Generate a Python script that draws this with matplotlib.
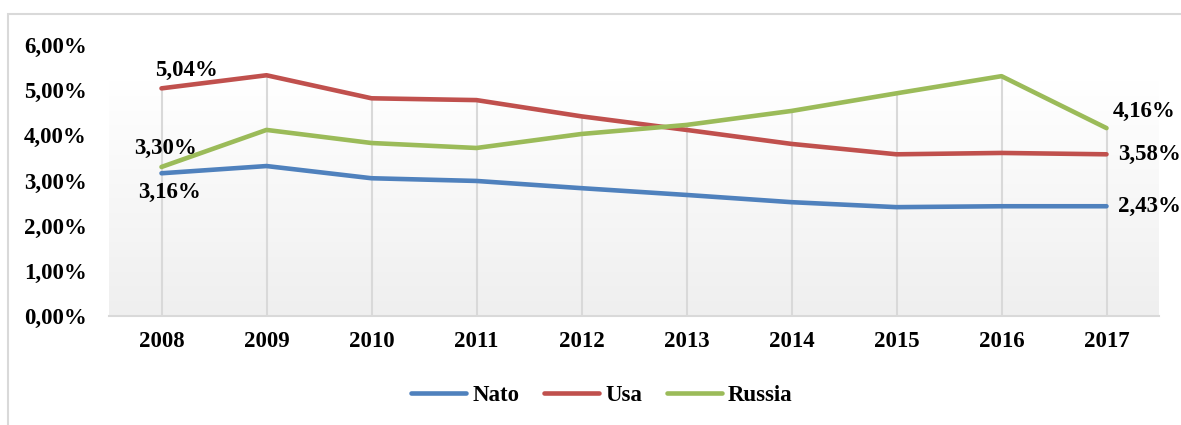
import numpy as np
import matplotlib.pyplot as plt
from matplotlib.ticker import FuncFormatter
from matplotlib.patches import Rectangle
from matplotlib.colors import LinearSegmentedColormap

years = ['2008', '2009', '2010', '2011', '2012', '2013', '2014', '2015', '2016', '2017']
nato = [3.16, 3.32, 3.05, 2.99, 2.83, 2.68, 2.52, 2.41, 2.43, 2.43]
usa = [5.04, 5.33, 4.82, 4.78, 4.42, 4.12, 3.81, 3.58, 3.61, 3.58]
russia = [3.30, 4.12, 3.83, 3.72, 4.03, 4.23, 4.54, 4.93, 5.31, 4.16]

plt.rcParams['font.family'] = ['Liberation Serif', 'DejaVu Serif']
plt.rcParams['font.weight'] = 'bold'
fs = 16.5

fig = plt.figure(figsize=(11.81, 4.25), dpi=100)
ax = fig.add_axes([109 / 1181, 1 - 316 / 425, 1050 / 1181, 271 / 425])

# outer chart frame
fig.patches.append(Rectangle((8 / 1181, -0.1), 1.2, 1 - 14 / 425 + 0.1, transform=fig.transFigure,
                             fill=False, edgecolor='#d9d9d9', linewidth=1.5))

x = np.arange(len(years))
ax.set_xlim(-0.5, len(years) - 0.5)
ax.set_ylim(0, 6)

# plot area gradient (white top -> light gray bottom)
grad = np.linspace(1, 0, 256).reshape(-1, 1)
ax.imshow(grad, extent=[-0.5, len(years) - 0.5, 0, 5.2], aspect='auto',
          cmap=LinearSegmentedColormap.from_list('g', ['#efefef', '#ffffff']),
          zorder=0, origin='upper')

# drop lines
top = np.max([nato, usa, russia], axis=0)
ax.vlines(x, 0, top, color='#d9d9d9', linewidth=1.5, zorder=1)

ax.plot(x, nato, color='#4F81BD', linewidth=3.3, label='Nato', zorder=3, solid_capstyle='round')
ax.plot(x, usa, color='#C0504D', linewidth=3.3, label='Usa', zorder=3, solid_capstyle='round')
ax.plot(x, russia, color='#9BBB59', linewidth=3.3, label='Russia', zorder=3, solid_capstyle='round')

fmt = lambda v: f'{v:.2f}%'.replace('.', ',')
ax.yaxis.set_major_formatter(FuncFormatter(lambda v, p: fmt(v)))
ax.set_yticks(np.arange(0, 7, 1))
ax.set_xticks(x)
ax.set_xticklabels(years)
ax.tick_params(axis='both', length=0, labelsize=fs)
ax.tick_params(axis='x', pad=11)
ax.tick_params(axis='y', pad=16)

for s in ['top', 'right', 'left']:
    ax.spines[s].set_visible(False)
ax.spines['bottom'].set_color('#d9d9d9')
ax.spines['bottom'].set_linewidth(1.5)
ax.spines['bottom'].set_zorder(2)

# data labels
ax.annotate(fmt(usa[0]), (x[0], usa[0]), xytext=(18, 13), textcoords='offset points', ha='center', va='center', fontsize=fs)
ax.annotate(fmt(russia[0]), (x[0], russia[0]), xytext=(3, 13), textcoords='offset points', ha='center', va='center', fontsize=fs)
ax.annotate(fmt(nato[0]), (x[0], nato[0]), xytext=(6, -14), textcoords='offset points', ha='center', va='center', fontsize=fs)
ax.annotate(fmt(russia[-1]), (x[-1], russia[-1]), xytext=(27, 12), textcoords='offset points', ha='center', va='center', fontsize=fs)
ax.annotate(fmt(usa[-1]), (x[-1], usa[-1]), xytext=(31, 0), textcoords='offset points', ha='center', va='center', fontsize=fs)
ax.annotate(fmt(nato[-1]), (x[-1], nato[-1]), xytext=(31, 0), textcoords='offset points', ha='center', va='center', fontsize=fs)

ax.legend(loc='center', bbox_to_anchor=(602 / 1181, 1 - 395 / 425), bbox_transform=fig.transFigure,
          ncol=3, frameon=False, fontsize=fs, handlelength=2.4, handletextpad=0.25, columnspacing=1.1)

fig.savefig('out.png', dpi=100)
